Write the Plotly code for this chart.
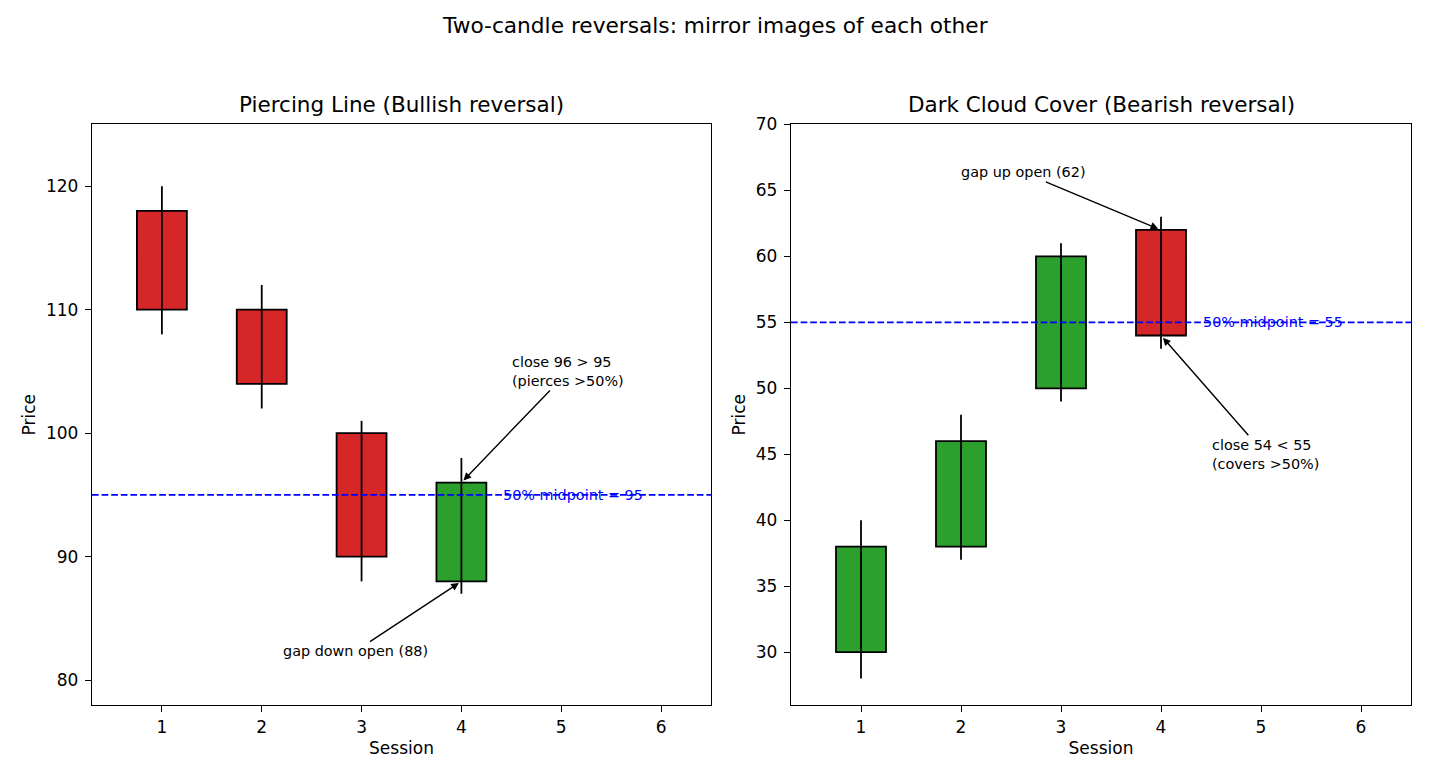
import plotly.graph_objects as go

# ---- data ----
sessions = [1, 2, 3, 4]
pl_open = [118, 110, 100, 88]
pl_close = [110, 104, 90, 96]
pl_high = [120, 112, 101, 98]
pl_low = [108, 102, 88, 87]
pl_mid = 95

dc_open = [30, 38, 50, 62]
dc_close = [38, 46, 60, 54]
dc_high = [40, 48, 61, 63]
dc_low = [28, 37, 49, 53]
dc_mid = 55

x_ticks = [1, 2, 3, 4, 5, 6]
pl_yticks = [80, 90, 100, 110, 120]
dc_yticks = [30, 35, 40, 45, 50, 55, 60, 65, 70]

RED = "#d62728"
GREEN = "#2ca02c"
FONT = "DejaVu Sans"
W = 1430
H = 780

fig = go.Figure()


def add_candles(opens, closes, highs, lows, xa, ya):
    colors = [GREEN if c >= o else RED for o, c in zip(opens, closes)]
    fig.add_trace(go.Bar(
        x=sessions,
        base=[min(o, c) for o, c in zip(opens, closes)],
        y=[abs(c - o) for o, c in zip(opens, closes)],
        width=0.5,
        marker=dict(color=colors, line=dict(color="black", width=1.8)),
        xaxis=xa, yaxis=ya, showlegend=False, hoverinfo="skip",
    ))
    wx, wy = [], []
    for s, lo, hi in zip(sessions, lows, highs):
        wx += [s, s, None]
        wy += [lo, hi, None]
    fig.add_trace(go.Scatter(
        x=wx, y=wy, mode="lines",
        line=dict(color="black", width=1.8),
        xaxis=xa, yaxis=ya, showlegend=False, hoverinfo="skip",
    ))


add_candles(pl_open, pl_close, pl_high, pl_low, "x", "y")
add_candles(dc_open, dc_close, dc_high, dc_low, "x2", "y2")

ydom = [0.0975, 0.8514]
axis_common = dict(
    showline=True, mirror=True, linecolor="black", linewidth=1.4,
    ticks="outside", ticklen=6, tickwidth=1.4, tickcolor="black",
    showgrid=False, zeroline=False,
    tickfont=dict(family=FONT, size=17, color="black"),
)

fig.update_layout(
    width=W, height=H,
    margin=dict(l=0, r=0, t=0, b=0),
    paper_bgcolor="white", plot_bgcolor="white",
    font=dict(family=FONT, color="black"),
    barmode="overlay",
    xaxis=dict(domain=[92 / W, 711 / W], range=[0.3, 6.5], tickvals=x_ticks,
               title=dict(text="Session", standoff=6, font=dict(size=17)), anchor="y", **axis_common),
    yaxis=dict(domain=ydom, range=[78, 125], tickvals=pl_yticks, ticklabelstandoff=3,
               title=dict(text="Price", standoff=5, font=dict(size=17)), anchor="x", **axis_common),
    xaxis2=dict(domain=[791 / W, 1411 / W], range=[0.3, 6.5], tickvals=x_ticks,
                title=dict(text="Session", standoff=6, font=dict(size=17)), anchor="y2", **axis_common),
    yaxis2=dict(domain=ydom, range=[26, 70], tickvals=dc_yticks, ticklabelstandoff=3,
                title=dict(text="Price", standoff=5, font=dict(size=17)), anchor="x2", **axis_common),
)

# midpoint lines
dash = "6.7px,2.9px"
fig.add_shape(type="line", xref="x domain", yref="y", x0=0, x1=1, y0=pl_mid, y1=pl_mid,
              line=dict(color="blue", width=1.8, dash=dash))
fig.add_shape(type="line", xref="x2 domain", yref="y2", x0=0, x1=1, y0=dc_mid, y1=dc_mid,
              line=dict(color="blue", width=1.8, dash=dash))

ann_font = dict(family=FONT, size=14.4, color="black")
fig.add_annotation(x=4.4, y=pl_mid, xref="x", yref="y", text=f"50% midpoint = {pl_mid}",
                   showarrow=False, xanchor="left", yanchor="middle",
                   font=dict(family=FONT, size=14.4, color="blue"))
fig.add_annotation(x=4.4, y=dc_mid, xref="x2", yref="y2", text=f"50% midpoint = {dc_mid}",
                   showarrow=False, xanchor="left", yanchor="middle",
                   font=dict(family=FONT, size=14.4, color="blue"))

arrow = dict(showarrow=True, arrowhead=2, arrowsize=1.1, arrowwidth=1.4,
             arrowcolor="black", standoff=3, font=ann_font, align="left")

fig.add_annotation(x=4, y=pl_close[3], xref="x", yref="y", axref="x", ayref="y",
                   ax=5.07, ay=105.0,
                   text=f"close {pl_close[3]} > {pl_mid}<br>(pierces >50%)", **arrow)
fig.add_annotation(x=4, y=pl_open[3], xref="x", yref="y", axref="x", ayref="y",
                   ax=2.94, ay=82.35,
                   text=f"gap down open ({pl_open[3]})", **arrow)
fig.add_annotation(x=4, y=dc_open[3], xref="x2", yref="y2", axref="x2", ayref="y2",
                   ax=2.62, ay=66.36,
                   text=f"gap up open ({dc_open[3]})", **arrow)
fig.add_annotation(x=4, y=dc_close[3], xref="x2", yref="y2", axref="x2", ayref="y2",
                   ax=5.04, ay=45.0,
                   text=f"close {dc_close[3]} < {dc_mid}<br>(covers >50%)", **arrow)

# titles
title_font = dict(family=FONT, size=21.5, color="black")
fig.add_annotation(x=(92 + 711) / 2 / W, y=0.8579, xref="paper", yref="paper",
                   text="Piercing Line (Bullish reversal)", showarrow=False,
                   xanchor="center", yanchor="bottom", font=title_font)
fig.add_annotation(x=(791 + 1411) / 2 / W, y=0.8579, xref="paper", yref="paper",
                   text="Dark Cloud Cover (Bearish reversal)", showarrow=False,
                   xanchor="center", yanchor="bottom", font=title_font)
fig.add_annotation(x=0.5, y=0.9796, xref="paper", yref="paper",
                   text="Two-candle reversals: mirror images of each other", showarrow=False,
                   xanchor="center", yanchor="middle", font=dict(family=FONT, size=21.7, color="black"))

fig.write_html("out.html")
